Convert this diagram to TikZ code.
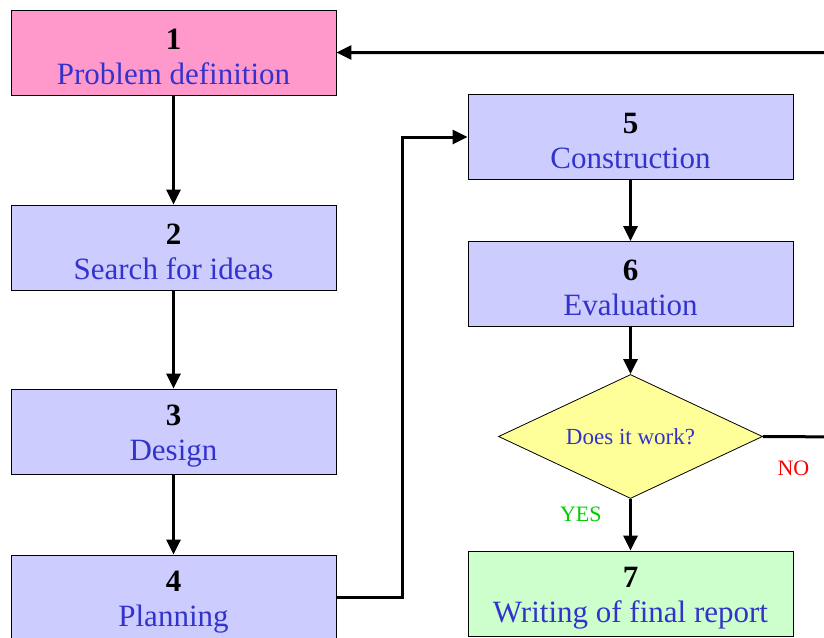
\documentclass[tikz,border=0pt]{standalone}
\usepackage{fontspec}
\setmainfont{Liberation Serif}
\usepackage{tikz}
\usetikzlibrary{arrows.meta,shapes.geometric}
\usetikzlibrary{positioning}
\definecolor{txtblue}{RGB}{51,51,204}
\definecolor{boxpink}{RGB}{255,153,204}
\definecolor{boxlilac}{RGB}{204,204,255}
\definecolor{boxgreen}{RGB}{204,255,204}
\definecolor{boxyellow}{RGB}{255,255,153}
\definecolor{yesgreen}{RGB}{0,204,0}
\tikzset{
    stage/.style={
           rectangle,
           draw=black, line width=0.8pt,
           fill=boxlilac,
           minimum width=325pt,
           minimum height=85pt,
           inner sep=0pt,
           align=center,
           font=\fontsize{31}{35}\selectfont,
           },
    decision/.style={
           diamond,
           aspect=2.13,
           draw=black, line width=0.8pt,
           fill=boxyellow,
           minimum width=264pt,
           minimum height=124pt,
           inner sep=0pt,
           text=txtblue,
           font=\fontsize{23}{27}\selectfont,
           },
    answer/.style={
           font=\fontsize{22}{26}\selectfont,
           },
}
\newcommand{\stagetext}[2]{\rule{0pt}{29pt}\textbf{#1}\\\textcolor{txtblue}{#2}}

\begin{document}
\begin{tikzpicture}[x=1pt,y=1pt,->,>={Triangle[length=15pt,width=14pt]},
    line width=3pt]
   \useasboundingbox (0,0) rectangle (824,-637);
   \clip (0,0) rectangle (824,-637);
   \node[stage,
 fill=boxpink] (P1) at (173.5,-52.5)
 {\stagetext{1}{Problem definition}};
   \node[stage,
 below of=P1,
 node distance=195pt] (P2)
 {\stagetext{2}{Search for ideas}};
   \node[stage,
 below of=P2,
 node distance=184pt] (P3)
 {\stagetext{3}{Design}};
   \node[stage,
 below of=P3,
 node distance=166pt] (P4)
 {\stagetext{4}{Planning}};
   \node[stage] (P5) at (630.5,-137)
 {\stagetext{5}{Construction}};
   \node[stage,
 below of=P5,
 node distance=147pt] (P6)
 {\stagetext{6}{Evaluation}};
   \node[decision,
 below of=P6,
 node distance=152.5pt] (D)
 {Does it work?};
   \node[stage,
 below of=D,
 node distance=157pt,
 fill=boxgreen] (P7)
 {\stagetext{7}{Writing of final report}};
 \coordinate (back) at (850,-437);
 % draw the paths, the NO branch runs off the page and back into P1
\path
  (P1) edge (P2)
  (P2) edge (P3)
  (P3) edge (P4)
  (P5) edge (P6)
  (P6) edge (D)
  (D) edge
    node[answer,pos=0.3,left=24pt,text=yesgreen] {YES}
    (P7)
 ;
\draw (P4.east) -- ++(66,0) |- (P5.west);
\draw (D.east) --
    node[answer,pos=0.35,below=19pt,text=red] {NO}
    (back) |- (P1.east);
\end{tikzpicture}
\end{document}
